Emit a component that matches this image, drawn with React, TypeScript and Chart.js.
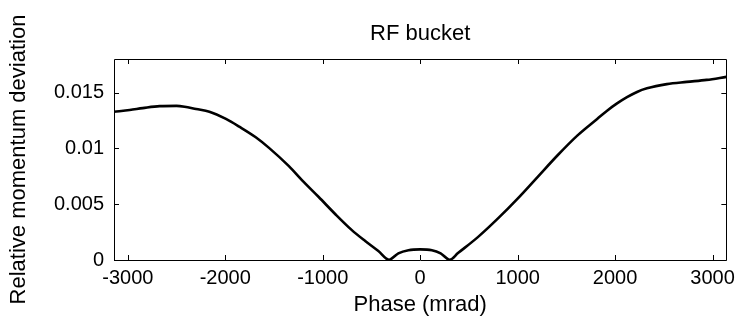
import React, { useEffect, useRef } from "react";
import { Chart, registerables } from "chart.js";

Chart.register(...registerables);

const phase: number[] = [
  -3142, -2980, -2847, -2673, -2500, -2418, -2299, -2163, -1993, -1857, -1687,
  -1551, -1347, -1211, -1041, -870, -704, -564, -429, -320, -224, -120, 0, 120,
  210, 303, 388, 592, 796, 1000, 1204, 1408, 1612, 1816, 1918, 2020, 2122, 2225,
  2327, 2531, 2735, 2939, 3142,
];
const deviation: number[] = [
  0.01328, 0.01343, 0.0136, 0.01378, 0.0138, 0.01373, 0.01352, 0.01328, 0.01263,
  0.01194, 0.01099, 0.01004, 0.0084, 0.00713, 0.00564, 0.0041, 0.0027, 0.0017,
  0.0008, 0.00002, 0.0006, 0.00088, 0.00095, 0.00088, 0.0006, 0.00002, 0.00062,
  0.00205, 0.0037, 0.0055, 0.00743, 0.00936, 0.01114, 0.01263, 0.01337, 0.01402,
  0.01458, 0.01505, 0.01537, 0.01575, 0.01595, 0.01613, 0.0164,
];
const xTicks: number[] = [-3000, -2000, -1000, 0, 1000, 2000, 3000];
const yTicks: number[] = [0, 0.005, 0.01, 0.015];
const chartTitle = "RF bucket";

const FONT = "'Liberation Sans', Arial, sans-serif";

const boxPlugin = {
  id: "boxTicks",
  afterDraw(chart: any) {
    const { ctx, chartArea } = chart;
    const { left, right, top, bottom } = chartArea;
    const xs = chart.scales.x;
    const ys = chart.scales.y;
    const L = 5;
    ctx.save();
    ctx.strokeStyle = "#000";
    ctx.lineWidth = 1;
    ctx.beginPath();
    ctx.rect(Math.round(left) + 0.5, Math.round(top) + 0.5, Math.round(right - left), Math.round(bottom - top));
    for (const v of xTicks) {
      const px = Math.round(xs.getPixelForValue(v)) + 0.5;
      ctx.moveTo(px, bottom);
      ctx.lineTo(px, bottom - L);
      ctx.moveTo(px, top);
      ctx.lineTo(px, top + L);
    }
    for (const v of yTicks) {
      const py = Math.round(ys.getPixelForValue(v)) + 0.5;
      ctx.moveTo(left, py);
      ctx.lineTo(left + L, py);
      ctx.moveTo(right, py);
      ctx.lineTo(right - L, py);
    }
    ctx.stroke();
    ctx.fillStyle = "#000";
    ctx.font = `22px ${FONT}`;
    ctx.textAlign = "center";
    ctx.textBaseline = "middle";
    ctx.fillText(chartTitle, (left + right) / 2, 34);
    ctx.restore();
  },
};

export default function App() {
  const ref = useRef<HTMLCanvasElement>(null);
  useEffect(() => {
    if (!ref.current) return;
    const chart = new Chart(ref.current, {
      type: "line",
      data: {
        datasets: [
          {
            data: phase.map((p, i) => ({ x: p, y: deviation[i] })),
            borderColor: "#000",
            borderWidth: 2.6,
            pointRadius: 0,
            cubicInterpolationMode: "monotone",
            fill: false,
          },
        ],
      },
      options: {
        responsive: false,
        animation: false,
        layout: { padding: { left: 0, right: 9, top: 59, bottom: 0 } },
        plugins: {
          legend: { display: false },
          tooltip: { enabled: false },
          title: { display: false },
        },
        scales: {
          x: {
            type: "linear",
            min: -3141.6,
            max: 3141.6,
            grid: { display: false, drawTicks: false },
            border: { display: false },
            afterBuildTicks: (axis: any) => {
              axis.ticks = xTicks.map((v) => ({ value: v }));
            },
            afterFit: (axis: any) => {
              axis.height = 64;
            },
            ticks: {
              color: "#000",
              padding: 6,
              maxRotation: 0,
              font: { family: FONT, size: 20 },
              callback: (v: any) => String(v),
            },
            title: {
              display: true,
              text: "Phase (mrad)",
              color: "#000",
              font: { family: FONT, size: 22 },
              padding: { top: 0, bottom: 6 },
            },
          },
          y: {
            type: "linear",
            min: 0,
            max: 0.018,
            grid: { display: false, drawTicks: false },
            border: { display: false },
            afterBuildTicks: (axis: any) => {
              axis.ticks = yTicks.map((v) => ({ value: v }));
            },
            afterFit: (axis: any) => {
              axis.width = 114;
            },
            ticks: {
              color: "#000",
              padding: 10,
              font: { family: FONT, size: 20 },
              callback: (v: any) => String(v),
            },
            title: {
              display: true,
              text: "Relative momentum deviation",
              color: "#000",
              font: { family: FONT, size: 22 },
              padding: { top: 6, bottom: 0 },
            },
          },
        },
      },
      plugins: [boxPlugin],
    } as any);
    return () => chart.destroy();
  }, []);
  return (
    <div style={{ position: "fixed", left: 0, top: 0, width: 741, height: 324, background: "#fff" }}>
      <canvas ref={ref} width={741} height={324} style={{ display: "block" }} />
    </div>
  );
}
